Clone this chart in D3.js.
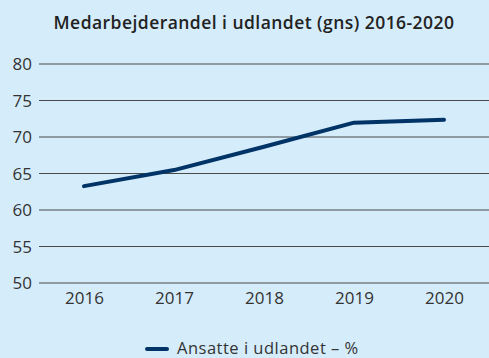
<!DOCTYPE html>
<html>
<head>
<meta charset="utf-8">
<script src="https://cdn.jsdelivr.net/npm/d3@7"></script>
<style>
  html, body { margin: 0; padding: 0; background: #d5ecfa; }
  svg { display: block; }
  text { font-family: "Open Sans", "DejaVu Sans", sans-serif; }
</style>
</head>
<body>
<svg id="chart" width="489" height="358"></svg>
<script>
// Share of employees abroad, yearly average
const years = ["2016", "2017", "2018", "2019", "2020"];
const shareAbroad = [63.2, 65.4, 68.6, 71.9, 72.3];
const yTicks = [50, 55, 60, 65, 70, 75, 80];
const titleText = "Medarbejderandel i udlandet (gns) 2016-2020";
const seriesName = "Ansatte i udlandet – %";

const W = 489, H = 358;
const margin = { top: 63, right: 0, bottom: 76, left: 39 };

const svg = d3.select("#chart");
svg.append("rect").attr("width", W).attr("height", H).attr("fill", "#d5ecfa");

const x = d3.scalePoint()
  .domain(years)
  .range([margin.left, W - margin.right])
  .padding(0.5);

const y = d3.scaleLinear()
  .domain([50, 80])
  .range([H - margin.bottom + 0.5, margin.top + 0.5]);

// Title
svg.append("text")
  .attr("x", 254)
  .attr("y", 29)
  .attr("text-anchor", "middle")
  .attr("font-size", 17.5)
  .attr("font-weight", 600)
  .attr("letter-spacing", 0.45)
  .attr("fill", "#222")
  .text(titleText);

// Horizontal gridlines with value labels on the left
const yAxis = d3.axisLeft(y)
  .tickValues(yTicks)
  .tickSize(-(W - margin.left))
  .tickPadding(7)
  .tickFormat(d3.format("d"));

const gy = svg.append("g")
  .attr("transform", `translate(${margin.left},0)`)
  .call(yAxis);
gy.select(".domain").remove();
gy.selectAll(".tick line")
  .attr("stroke", "#4a4a4a")
  .attr("stroke-width", 1.1);
gy.selectAll(".tick text")
  .attr("font-size", 17)
  .attr("fill", "#333")
  .attr("dy", "0.36em");

// Year labels along the bottom
const xAxis = d3.axisBottom(x).tickSize(0).tickPadding(10);
const gx = svg.append("g")
  .attr("transform", `translate(0,${H - margin.bottom})`)
  .call(xAxis);
gx.select(".domain").remove();
gx.selectAll(".tick text")
  .attr("font-size", 17)
  .attr("fill", "#333")
  .attr("dy", "0.71em");

// Series line
const line = d3.line()
  .x((d, i) => x(years[i]))
  .y(d => y(d));

svg.append("path")
  .datum(shareAbroad)
  .attr("d", line)
  .attr("fill", "none")
  .attr("stroke", "#003366")
  .attr("stroke-width", 4)
  .attr("stroke-linecap", "round")
  .attr("stroke-linejoin", "round");

// Legend
const lg = svg.append("g").attr("transform", "translate(146,349)");
lg.append("line")
  .attr("x1", 1).attr("x2", 21)
  .attr("y1", 0).attr("y2", 0)
  .attr("stroke", "#003366")
  .attr("stroke-width", 4)
  .attr("stroke-linecap", "round");
lg.append("text")
  .attr("x", 31)
  .attr("y", 5)
  .attr("font-size", 16.5)
  .attr("letter-spacing", 0.5)
  .attr("fill", "#333")
  .text(seriesName);
</script>
</body>
</html>
